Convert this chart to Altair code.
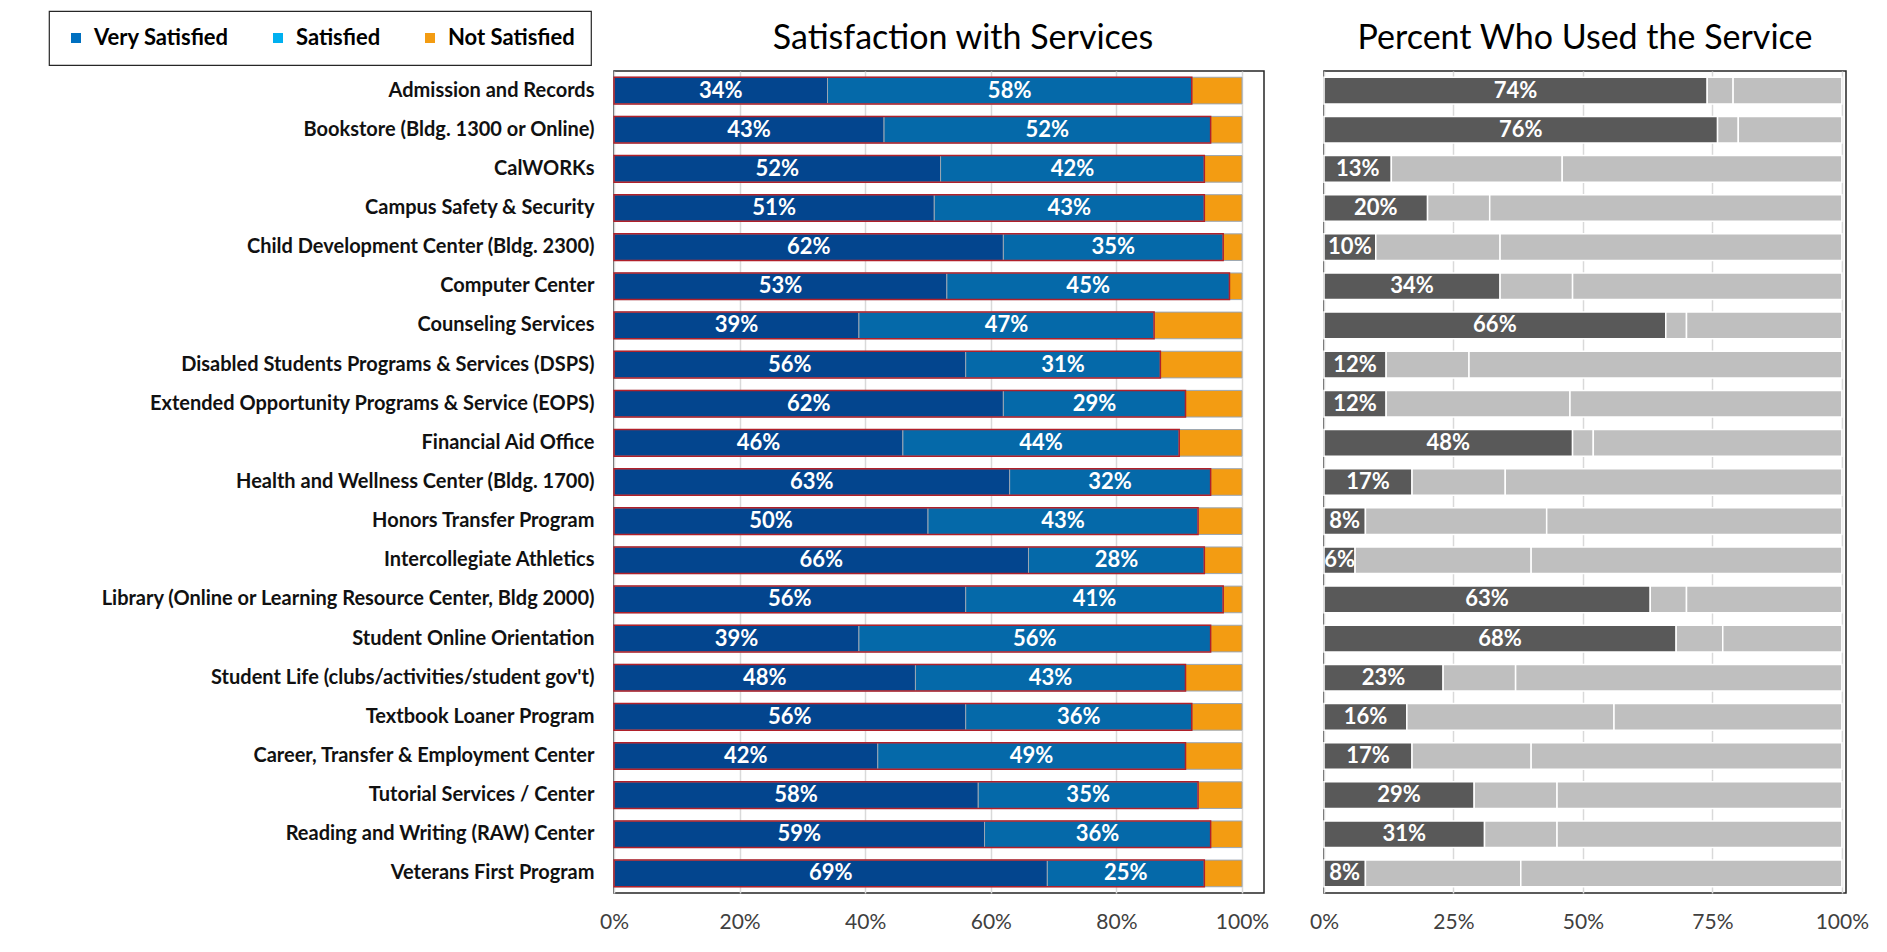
import altair as alt
import pandas as pd

services = [
    "Admission and Records",
    "Bookstore (Bldg. 1300 or Online)",
    "CalWORKs",
    "Campus Safety & Security",
    "Child Development Center (Bldg. 2300)",
    "Computer Center",
    "Counseling Services",
    "Disabled Students Programs & Services (DSPS)",
    "Extended Opportunity Programs & Service (EOPS)",
    "Financial Aid Office",
    "Health and Wellness Center (Bldg. 1700)",
    "Honors Transfer Program",
    "Intercollegiate Athletics",
    "Library (Online or Learning Resource Center, Bldg 2000)",
    "Student Online Orientation",
    "Student Life (clubs/activities/student gov't)",
    "Textbook Loaner Program",
    "Career, Transfer & Employment Center",
    "Tutorial Services / Center",
    "Reading and Writing (RAW) Center",
    "Veterans First Program",
]
very_satisfied = [34, 43, 52, 51, 62, 53, 39, 56, 62, 46, 63, 50, 66, 56, 39, 48, 56, 42, 58, 59, 69]
satisfied = [58, 52, 42, 43, 35, 45, 47, 31, 29, 44, 32, 43, 28, 41, 56, 43, 36, 49, 35, 36, 25]
not_satisfied = [8, 5, 6, 6, 3, 2, 14, 13, 9, 10, 5, 7, 6, 3, 5, 9, 8, 9, 7, 5, 6]

used = [74, 76, 13, 20, 10, 34, 66, 12, 12, 48, 17, 8, 6, 63, 68, 23, 16, 17, 29, 31, 8]
middle = [5, 4, 33, 12, 24, 14, 4, 16, 35.5, 4, 18, 35, 34, 7, 9, 14, 40, 23, 16, 14, 30]
rest = [21, 20, 54, 68, 66, 52, 30, 72, 52.5, 48, 65, 57, 60, 30, 23, 63, 44, 60, 55, 55, 62]

sat_cats = ["Very Satisfied", "Satisfied", "Not Satisfied"]
bar_colors = ["#03458E", "#0569A9", "#F39C12"]
legend_colors = ["#0070C0", "#00B0F0", "#F39C12"]
use_cats = ["Used", "Middle", "Rest"]
use_colors = ["#595959", "#BFBFBF", "#BFBFBF"]

left_title = ["Satisfaction with Services"]
right_title = ["Percent Who Used the Service"]

FONT = "Lato"

rows = []
for i, s in enumerate(services):
    for j, (c, v) in enumerate(zip(sat_cats, [very_satisfied[i], satisfied[i], not_satisfied[i]])):
        rows.append({"service": s, "cat": c, "value": v, "order": j})
sat_long = pd.DataFrame(rows)
sat_wide = pd.DataFrame({"service": services, "vs": very_satisfied, "s": satisfied})

rows = []
for i, s in enumerate(services):
    for j, (c, v) in enumerate(zip(use_cats, [used[i], middle[i], rest[i]])):
        rows.append({"service": s, "cat": c, "value": v, "order": j})
use_long = pd.DataFrame(rows)
use_wide = pd.DataFrame({"service": services, "used": used})

legend_df = pd.DataFrame({"cat": sat_cats})

H = 822
LW = 650
RW = 522
yscale = alt.Scale(domain=services, paddingInner=0.32, paddingOuter=0.16)

left_x_scale = alt.Scale(domain=[0, 103.5], nice=False, zero=True)
left_x_axis = alt.Axis(values=[0, 20, 40, 60, 80, 100], labelExpr="datum.value + '%'", title=None,
                       grid=True, gridColor="#D9D9D9", gridWidth=1.5, ticks=False, domain=False,
                       labelFontSize=21, labelColor="#404040", labelPadding=18, labelFont=FONT,
                       labelFlush=False)
left_y_axis = alt.Axis(title=None, labelFont=FONT, labelFontWeight="bold", labelFontSize=20,
                       labelColor="#111111", ticks=False, domain=False, labelPadding=20, labelLimit=800)

sat_bars = alt.Chart(sat_long).mark_bar(stroke="#9AA6B4", strokeWidth=1).encode(
    x=alt.X("value:Q", stack="zero", scale=left_x_scale, axis=left_x_axis, title=None),
    y=alt.Y("service:N", scale=yscale, sort=services, axis=left_y_axis, title=None),
    color=alt.Color("cat:N", scale=alt.Scale(domain=sat_cats, range=bar_colors), legend=None),
    order=alt.Order("order:Q"),
)

outline = alt.Chart(sat_wide).transform_calculate(
    zero="0", tot="datum.vs + datum.s"
).mark_bar(fillOpacity=0, stroke="#B0202A", strokeWidth=1.5).encode(
    x=alt.X("zero:Q", title=None),
    x2="tot:Q",
    y=alt.Y("service:N", sort=services, title=None),
)

txt_style = dict(color="white", font=FONT, fontWeight="bold", fontSize=22, align="center", baseline="middle")
vs_text = alt.Chart(sat_wide).transform_calculate(
    xpos="datum.vs / 2", lbl="datum.vs + '%'"
).mark_text(**txt_style).encode(
    x=alt.X("xpos:Q", title=None), y=alt.Y("service:N", sort=services, title=None), text="lbl:N"
)
s_text = alt.Chart(sat_wide).transform_calculate(
    xpos="datum.vs + datum.s / 2", lbl="datum.s + '%'"
).mark_text(**txt_style).encode(
    x=alt.X("xpos:Q", title=None), y=alt.Y("service:N", sort=services, title=None), text="lbl:N"
)

legend_layer = alt.Chart(legend_df).mark_square(size=0, opacity=0).encode(
    x=alt.value(0), y=alt.value(0),
    color=alt.Color("cat:N", scale=alt.Scale(domain=sat_cats, range=legend_colors), title=None,
                    legend=alt.Legend(orient="none", legendX=-565, legendY=-60, direction="horizontal",
                                      symbolType="square", symbolSize=100, symbolOpacity=1,
                                      labelFont=FONT, labelFontWeight="bold", labelFontSize=22,
                                      labelColor="#000000", padding=16, columnPadding=38,
                                      strokeColor="#262626", labelOffset=7)),
)

title_style = dict(font=FONT, fontSize=34, color="#000000", align="center", baseline="alphabetic")
left_title_layer = alt.Chart(pd.DataFrame({"t": left_title})).mark_text(**title_style).encode(
    x=alt.value(349), y=alt.value(-22), text="t:N"
)

left = alt.layer(sat_bars, outline, vs_text, s_text, legend_layer, left_title_layer).resolve_scale(
    color="independent"
).properties(width=LW, height=H)

right_x_scale = alt.Scale(domain=[0, 100.8], nice=False, zero=True)
right_x_axis = alt.Axis(values=[0, 25, 50, 75, 100], labelExpr="datum.value + '%'", title=None,
                        grid=True, gridColor="#D9D9D9", gridWidth=1.5, ticks=False, domain=False,
                        labelFontSize=21, labelColor="#404040", labelPadding=18, labelFont=FONT,
                        labelFlush=False)

use_bars = alt.Chart(use_long).mark_bar(stroke="white", strokeWidth=1.5).encode(
    x=alt.X("value:Q", stack="zero", scale=right_x_scale, axis=right_x_axis, title=None),
    y=alt.Y("service:N", scale=yscale, sort=services, axis=None),
    color=alt.Color("cat:N", scale=alt.Scale(domain=use_cats, range=use_colors), legend=None),
    order=alt.Order("order:Q"),
)
use_text = alt.Chart(use_wide).transform_calculate(
    xpos="datum.used / 2", lbl="datum.used + '%'"
).mark_text(**txt_style).encode(
    x=alt.X("xpos:Q", title=None), y=alt.Y("service:N", sort=services, axis=None), text="lbl:N"
)
right_title_layer = alt.Chart(pd.DataFrame({"t": right_title})).mark_text(**title_style).encode(
    x=alt.value(RW / 2), y=alt.value(-22), text="t:N"
)

right = alt.layer(use_bars, use_text, right_title_layer).properties(width=RW, height=H)

chart = alt.hconcat(left, right, spacing=38).properties(
    padding={"left": 39, "top": 1, "right": 5, "bottom": 5}
).configure_view(
    stroke="#262626", strokeWidth=1.5
).configure_legend(
    strokeWidth=1.2
)

chart.save("out.html", embed_options={"renderer": "svg", "actions": False})
